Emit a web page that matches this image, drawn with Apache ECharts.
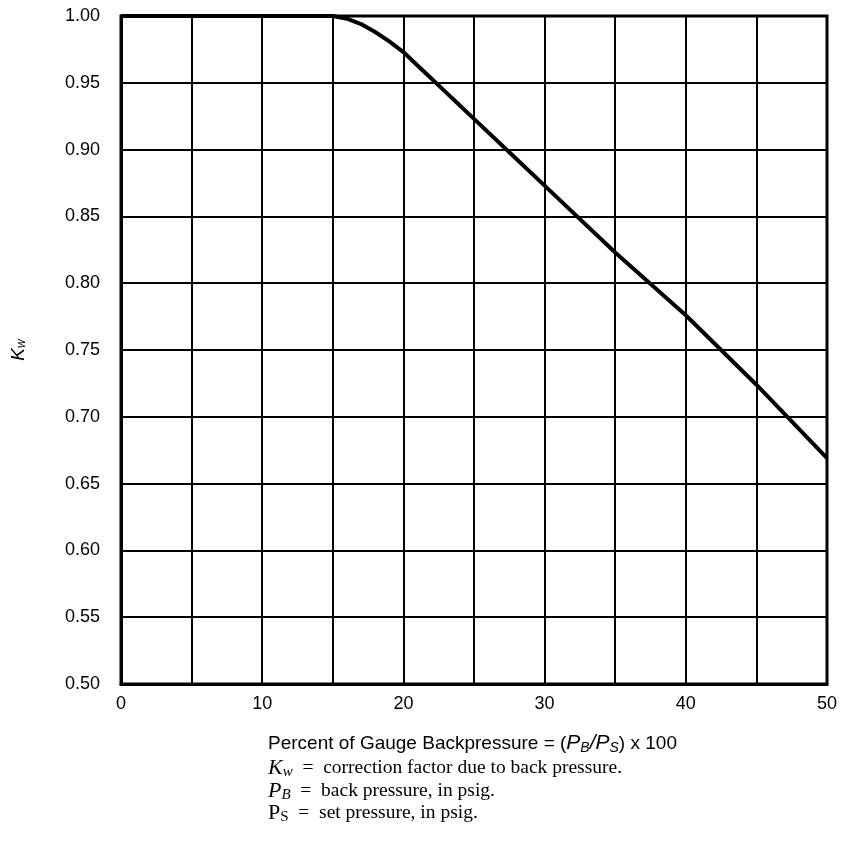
<!DOCTYPE html>
<html>
<head>
<meta charset="utf-8">
<script src="https://cdn.jsdelivr.net/npm/echarts@6/dist/echarts.min.js"></script>
<style>
  html, body { margin: 0; padding: 0; background: #fff; }
  #chart { width: 842px; height: 844px; }
</style>
</head>
<body>
<div id="chart"></div>
<script>
// percent of gauge backpressure vs Kw
const backpressure = [0, 5, 10, 15, 16, 17, 18, 19, 20, 21, 22, 23, 24, 25, 27.5, 30, 35, 40, 45, 50]
const kw = [1.0, 1.0, 1.0, 1.0, 0.998, 0.994, 0.988, 0.981, 0.973, 0.963, 0.953, 0.943, 0.933, 0.923, 0.898, 0.873, 0.823, 0.776, 0.724, 0.669]
const yTicks = ['0.50', '0.55', '0.60', '0.65', '0.70', '0.75', '0.80', '0.85', '0.90', '0.95', '1.00']

let myChart = echarts.init(document.getElementById('chart'))
myChart.setOption({
    backgroundColor: '#fff',
    animation: false,
    grid: {
        left: 121,
        right: 15,
        top: 16,
        bottom: 160,
        containLabel: false,
        outerBoundsMode: 'none',
        show: true,
        borderColor: '#000',
        borderWidth: 3
    },
    xAxis: {
        type: 'value',
        min: 0,
        max: 50,
        interval: 10,
        axisLine: { show: true, lineStyle: { color: '#000', width: 3 } },
        axisTick: { show: false },
        minorTick: { show: false, splitNumber: 2 },
        minorSplitLine: { show: true, lineStyle: { color: '#000', width: 2 } },
        splitLine: { show: true, lineStyle: { color: '#000', width: 2 } },
        axisLabel: {
            color: '#000',
            fontFamily: 'Liberation Sans',
            fontSize: 18,
            margin: 11
        }
    },
    yAxis: {
        type: 'value',
        min: 0.5,
        max: 1.0,
        interval: 0.05,
        name: '{k|K}{w|w}',
        nameLocation: 'middle',
        nameGap: 93,
        nameRotate: 90,
        nameTextStyle: {
            rich: {
                k: { fontFamily: 'Liberation Sans', fontStyle: 'italic', fontSize: 19, color: '#000' },
                w: { fontFamily: 'Liberation Sans', fontStyle: 'italic', fontSize: 12, color: '#000', verticalAlign: 'bottom', padding: [7, 0, 0, 0] }
            }
        },
        axisLine: { show: true, lineStyle: { color: '#000', width: 3 } },
        axisTick: { show: false },
        splitLine: { show: true, lineStyle: { color: '#000', width: 2 } },
        axisLabel: {
            color: '#000',
            fontFamily: 'Liberation Sans',
            fontSize: 18,
            margin: 21,
            formatter: function (v) {
                return yTicks[Math.round((v - 0.5) / 0.05)]
            }
        }
    },
    series: [
        {
            type: 'line',
            data: backpressure.map((x, i) => [x, kw[i]]),
            smooth: false,
            showSymbol: false,
            lineStyle: { color: '#000', width: 4, join: 'round' }
        }
    ],
    graphic: [
        {
            type: 'text',
            left: 268,
            top: 733,
            style: {
                text: 'Percent of Gauge Backpressure = ({i|P}{s|B}{i|/P}{s|S}) x 100',
                fontFamily: 'Liberation Sans',
                fontSize: 19,
                fill: '#000',
                rich: {
                    i: { fontFamily: 'Liberation Sans', fontStyle: 'italic', fontSize: 21, fill: '#000' },
                    s: { fontFamily: 'Liberation Sans', fontStyle: 'italic', fontSize: 14, fill: '#000', verticalAlign: 'bottom', padding: [9, 0, 0, 0] }
                }
            }
        },
        {
            type: 'text',
            left: 268,
            top: 757,
            style: {
                text: '{i|K}{s|w}  =  correction factor due to back pressure.',
                fontFamily: 'Liberation Serif',
                fontSize: 19.5,
                fill: '#000',
                rich: {
                    i: { fontFamily: 'Liberation Serif', fontStyle: 'italic', fontSize: 22, fill: '#000' },
                    s: { fontFamily: 'Liberation Serif', fontStyle: 'italic', fontSize: 15, fill: '#000', verticalAlign: 'bottom', padding: [9, 0, 0, 0] }
                }
            }
        },
        {
            type: 'text',
            left: 268,
            top: 780,
            style: {
                text: '{i|P}{s|B}  =  back pressure, in psig.',
                fontFamily: 'Liberation Serif',
                fontSize: 19.5,
                fill: '#000',
                rich: {
                    i: { fontFamily: 'Liberation Serif', fontStyle: 'italic', fontSize: 22, fill: '#000' },
                    s: { fontFamily: 'Liberation Serif', fontStyle: 'italic', fontSize: 15, fill: '#000', verticalAlign: 'bottom', padding: [9, 0, 0, 0] }
                }
            }
        },
        {
            type: 'text',
            left: 268,
            top: 802,
            style: {
                text: '{i|P}{s|S}  =  set pressure, in psig.',
                fontFamily: 'Liberation Serif',
                fontSize: 19.5,
                fill: '#000',
                rich: {
                    i: { fontFamily: 'Liberation Serif', fontSize: 22, fill: '#000' },
                    s: { fontFamily: 'Liberation Serif', fontSize: 15, fill: '#000', verticalAlign: 'bottom', padding: [9, 0, 0, 0] }
                }
            }
        }
    ]
})
window.addEventListener('resize', function () {
    myChart.resize()
})
</script>
</body>
</html>
